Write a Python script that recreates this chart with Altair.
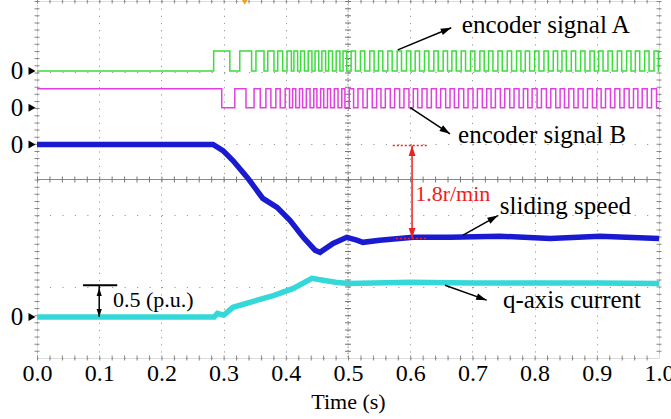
import math
import altair as alt
import pandas as pd

# ---------------- data ----------------
x_ticks = [0.0, 0.1, 0.2, 0.3, 0.4, 0.5, 0.6, 0.7, 0.8, 0.9, 1.0]
y_grid = [0, 1, 2, 3, 4, 5, 6, 7, 8, 9, 10]

# encoder signal A (levels in divisions)
A_LOW, A_HIGH = 8.04, 8.60
a_rise = [0.284, 0.326, 0.352, 0.371, 0.387, 0.402, 0.413, 0.424, 0.436, 0.447, 0.458, 0.469,
          0.481, 0.492, 0.505, 0.520, 0.535, 0.549, 0.564, 0.579, 0.594, 0.608, 0.623, 0.638,
          0.653, 0.667, 0.682, 0.697, 0.712, 0.726, 0.741, 0.756, 0.771, 0.785, 0.800, 0.815,
          0.830, 0.844, 0.859, 0.874, 0.889, 0.903, 0.918, 0.933, 0.948, 0.962, 0.977, 0.992]
a_fall = [0.310, 0.345, 0.365, 0.381, 0.395, 0.409, 0.419, 0.430, 0.442, 0.453, 0.464, 0.475,
          0.487, 0.498, 0.512, 0.527, 0.542, 0.556, 0.571, 0.586, 0.601, 0.615, 0.630, 0.645,
          0.660, 0.674, 0.689, 0.704, 0.719, 0.733, 0.748, 0.763, 0.778, 0.792, 0.807, 0.822,
          0.837, 0.851, 0.866, 0.881, 0.896, 0.910, 0.925, 0.940, 0.955, 0.969, 0.984, 0.999]

# encoder signal B
B_LOW, B_HIGH = 7.01, 7.54
b_fall = [0.297, 0.336, 0.359, 0.376, 0.391, 0.406, 0.416, 0.427, 0.439, 0.450, 0.461, 0.472,
          0.484, 0.495, 0.509, 0.524, 0.539, 0.553, 0.568, 0.583, 0.598, 0.612, 0.627, 0.642,
          0.657, 0.671, 0.686, 0.701, 0.716, 0.730, 0.745, 0.760, 0.775, 0.789, 0.804, 0.819,
          0.834, 0.848, 0.863, 0.878, 0.893, 0.907, 0.922, 0.937, 0.952, 0.966, 0.981, 0.996]
b_rise = [0.318, 0.349, 0.368, 0.384, 0.399, 0.411, 0.422, 0.433, 0.445, 0.456, 0.467, 0.478,
          0.490, 0.502, 0.516, 0.531, 0.546, 0.560, 0.575, 0.590, 0.605, 0.619, 0.634, 0.649,
          0.664, 0.678, 0.693, 0.708, 0.723, 0.737, 0.752, 0.767, 0.782, 0.796, 0.811, 0.826,
          0.841, 0.855, 0.870, 0.885, 0.900, 0.914, 0.929, 0.944, 0.959, 0.973, 0.988]

# sliding speed
speed_t = [0.0, 0.283, 0.299, 0.315, 0.338, 0.363, 0.386, 0.407, 0.428, 0.447, 0.455, 0.476,
           0.498, 0.514, 0.524, 0.551, 0.605, 0.664, 0.744, 0.825, 0.905, 1.0]
speed_v = [5.98, 5.98, 5.81, 5.53, 5.06, 4.47, 4.22, 3.85, 3.38, 3.02, 2.96, 3.21,
           3.38, 3.30, 3.24, 3.30, 3.38, 3.38, 3.41, 3.35, 3.41, 3.35]

# q-axis current
current_t = [0.0, 0.285, 0.290, 0.300, 0.305, 0.315, 0.354, 0.380, 0.412, 0.442, 0.460,
             0.480, 0.500, 0.600, 0.700, 0.800, 0.900, 1.0]
current_v = [1.15, 1.15, 1.25, 1.20, 1.27, 1.42, 1.62, 1.75, 1.95, 2.23, 2.18,
             2.12, 2.09, 2.12, 2.10, 2.10, 2.10, 2.09]

# channel zero markers
zero_levels = [8.04, 7.01, 5.98, 1.15]

# annotations (data coordinates)
label_text = ["encoder signal A", "encoder signal B", "sliding speed", "q-axis current"]
label_t = [0.683, 0.677, 0.744, 0.749]
label_v = [9.11, 6.03, 4.02, 1.40]
arrow_t = [0.580, 0.600, 0.685, 0.656]
arrow_v = [8.63, 7.01, 3.44, 2.04]
arrow_t2 = [0.666, 0.664, 0.741, 0.723]
arrow_v2 = [9.25, 6.28, 3.99, 1.62]

speed_ann_t = 0.603
speed_ann_top, speed_ann_bot = 5.95, 3.35
speed_ann_text = "1.8r/min"
cur_ann_t = 0.100
cur_ann_top, cur_ann_bot = 2.04, 1.15
cur_ann_text = "0.5 (p.u.)"

W, H = 622, 357
PX_T, PX_V = W / 1.0, H / 10.0
SERIF = "Liberation Serif"


def square(rises, falls, low, high, start_high):
    events = sorted([(t, high) for t in rises] + [(t, low) for t in falls])
    level = high if start_high else low
    pts = [(0.0, level)]
    for t, new in events:
        pts.append((t, level))
        pts.append((t, new))
        level = new
    pts.append((1.0, level))
    return pd.DataFrame({"t": [p[0] for p in pts], "v": [p[1] for p in pts],
                         "i": list(range(len(pts)))})


def angle(t1, v1, t2, v2):
    return math.degrees(math.atan2((t2 - t1) * PX_T, (v2 - v1) * PX_V)) % 360


df_a = square(a_rise, a_fall, A_LOW, A_HIGH, False)
df_b = square(b_rise, b_fall, B_LOW, B_HIGH, True)
df_speed = pd.DataFrame({"t": speed_t, "v": speed_v, "i": range(len(speed_t))})
df_cur = pd.DataFrame({"t": current_t, "v": current_v, "i": range(len(current_t))})
df_zero = pd.DataFrame({"v": zero_levels, "lab": ["0"] * len(zero_levels)})
df_lab = pd.DataFrame({"t": label_t, "v": label_v, "txt": label_text})
df_arr = pd.DataFrame({"t": arrow_t, "v": arrow_v, "t2": arrow_t2, "v2": arrow_v2})
df_arr["ang"] = [angle(a, b, c, d) for a, b, c, d in zip(arrow_t, arrow_v, arrow_t2, arrow_v2)]

xs = alt.Scale(domain=[0, 1], nice=False, zero=False)
ys = alt.Scale(domain=[0, 10], nice=False, zero=False)
x_axis = alt.Axis(values=x_ticks, format=".1f", title="Time (s)", labelFont=SERIF, labelFontSize=24,
                  labelColor="black", labelFlush=False, labelPadding=3, ticks=False, domain=False,
                  titleFont=SERIF, titleFontSize=22, titleFontWeight="normal", titleColor="black",
                  titlePadding=6, grid=True, gridColor="#9a9a9a", gridDash=[1.2, 5.94], gridWidth=1)
y_axis = alt.Axis(values=y_grid, labels=False, ticks=False, domain=False, title=None, grid=True,
                  gridColor="#9a9a9a", gridDash=[1.2, 11.24], gridWidth=1)
X = alt.X("t:Q", scale=xs, axis=x_axis)
Y = alt.Y("v:Q", scale=ys, axis=y_axis)

ARROW = "M0,0L-0.42,1.3L0.42,1.3Z"

layers = []
# center crosshair
layers.append(alt.Chart().mark_rule(color="#8a8a8a", strokeWidth=1).encode(
    y=alt.datum(5, scale=ys), x=alt.value(0), x2=alt.value(W)))
layers.append(alt.Chart().mark_rule(color="#777777", strokeWidth=6, strokeDash=[1, 11.44]).encode(
    y=alt.datum(5, scale=ys), x=alt.value(0), x2=alt.value(W)))
layers.append(alt.Chart().mark_rule(color="#777777", strokeWidth=1, strokeDash=[1.2, 2]).encode(
    x=alt.datum(0.5, scale=xs), y=alt.value(0), y2=alt.value(H)))
layers.append(alt.Chart().mark_rule(color="#777777", strokeWidth=6, strokeDash=[1, 6.14]).encode(
    x=alt.datum(0.5, scale=xs), y=alt.value(0), y2=alt.value(H)))
# inward ticks on the frame
layers.append(alt.Chart().mark_rule(color="#888888", strokeWidth=5, strokeDash=[1, 11.44]).encode(
    x=alt.value(0), x2=alt.value(W), y=alt.value(0)))
layers.append(alt.Chart().mark_rule(color="#888888", strokeWidth=5, strokeDash=[1, 11.44]).encode(
    x=alt.value(0), x2=alt.value(W), y=alt.value(H)))
layers.append(alt.Chart().mark_rule(color="#888888", strokeWidth=5, strokeDash=[1, 6.14]).encode(
    y=alt.value(0), y2=alt.value(H), x=alt.value(0)))
layers.append(alt.Chart().mark_rule(color="#888888", strokeWidth=5, strokeDash=[1, 6.14]).encode(
    y=alt.value(0), y2=alt.value(H), x=alt.value(W)))

# signals
layers.append(alt.Chart(df_a).mark_line(color="#3ddc3d", strokeWidth=1.5, interpolate="linear").encode(
    x=X, y=Y, order="i:Q"))
layers.append(alt.Chart(df_b).mark_line(color="#e040e0", strokeWidth=1.5).encode(
    x=X, y=Y, order="i:Q"))
layers.append(alt.Chart(df_speed).mark_line(color="#1a1ad0", strokeWidth=5.5).encode(
    x=X, y=Y, order="i:Q"))
layers.append(alt.Chart(df_cur).mark_line(color="#35d8d8", strokeWidth=5.5).encode(
    x=X, y=Y, order="i:Q"))

# zero markers on the left
layers.append(alt.Chart(df_zero).mark_text(font=SERIF, fontSize=25, color="black", align="center",
                                            baseline="middle").encode(
    x=alt.value(-20), y=Y, text="lab:N"))
layers.append(alt.Chart(df_zero).mark_point(shape="triangle-right", filled=True, color="black",
                                             size=65, opacity=1).encode(x=alt.value(-5), y=Y))

# trigger marker
layers.append(alt.Chart().mark_point(shape="triangle-down", filled=True, color="#f0a020",
                                     size=40, opacity=1).encode(
    x=alt.datum(0.334, scale=xs), y=alt.value(1)))

# label arrows
layers.append(alt.Chart(df_arr).mark_rule(color="black", strokeWidth=1.5).encode(
    x=X, y=Y, x2="t2:Q", y2="v2:Q"))
layers.append(alt.Chart(df_arr).mark_point(shape=ARROW, filled=True, color="black", size=260,
                                           opacity=1).encode(
    x=alt.X("t2:Q", scale=xs, axis=x_axis), y=alt.Y("v2:Q", scale=ys, axis=y_axis),
    angle=alt.Angle("ang:Q", scale=None)))
layers.append(alt.Chart(df_lab).mark_text(font=SERIF, fontSize=25, color="black", align="left",
                                           baseline="alphabetic").encode(x=X, y=Y, text="txt:N"))

# speed change annotation (red)
df_sp = pd.DataFrame({"t": [speed_ann_t], "v": [speed_ann_bot], "v2": [speed_ann_top]})
df_sp_heads = pd.DataFrame({"t": [speed_ann_t, speed_ann_t], "v": [speed_ann_top, speed_ann_bot],
                            "ang": [0, 180]})
df_sp_lines = pd.DataFrame({"t": [speed_ann_t - 0.031, speed_ann_t - 0.026],
                            "t2": [speed_ann_t + 0.026, speed_ann_t + 0.023],
                            "v": [speed_ann_top, speed_ann_bot]})
RED = "#ee2020"
layers.append(alt.Chart(df_sp_lines).mark_rule(color=RED, strokeWidth=1.5, strokeDash=[2, 2]).encode(
    x=X, x2="t2:Q", y=Y))
layers.append(alt.Chart(df_sp).mark_rule(color=RED, strokeWidth=1.5).encode(x=X, y=Y, y2="v2:Q"))
layers.append(alt.Chart(df_sp_heads).mark_point(shape=ARROW, filled=True, color=RED, size=260,
                                                opacity=1).encode(
    x=X, y=Y, angle=alt.Angle("ang:Q", scale=None)))
layers.append(alt.Chart(pd.DataFrame({"t": [0.608], "v": [4.39], "txt": [speed_ann_text]}))
              .mark_text(font=SERIF, fontSize=22, color=RED, align="left", baseline="alphabetic")
              .encode(x=X, y=Y, text="txt:N"))

# current scale annotation (black)
df_cu_bar = pd.DataFrame({"t": [cur_ann_t - 0.026], "t2": [cur_ann_t + 0.029], "v": [cur_ann_top]})
df_cu = pd.DataFrame({"t": [cur_ann_t], "v": [cur_ann_bot], "v2": [cur_ann_top]})
df_cu_heads = pd.DataFrame({"t": [cur_ann_t, cur_ann_t], "v": [cur_ann_top - 0.08, cur_ann_bot],
                            "ang": [0, 180]})
layers.append(alt.Chart(df_cu_bar).mark_rule(color="black", strokeWidth=2).encode(x=X, x2="t2:Q", y=Y))
layers.append(alt.Chart(df_cu).mark_rule(color="black", strokeWidth=1.5).encode(x=X, y=Y, y2="v2:Q"))
layers.append(alt.Chart(df_cu_heads).mark_point(shape=ARROW, filled=True, color="black", size=150,
                                                opacity=1).encode(
    x=X, y=Y, angle=alt.Angle("ang:Q", scale=None)))
layers.append(alt.Chart(pd.DataFrame({"t": [0.122], "v": [1.42], "txt": [cur_ann_text]}))
              .mark_text(font=SERIF, fontSize=22, color="black", align="left", baseline="alphabetic")
              .encode(x=X, y=Y, text="txt:N"))

chart = alt.layer(*layers).properties(
    width=W, height=H,
    autosize=alt.AutoSizeParams(type="none"),
    padding={"left": 37, "top": 1, "right": 12, "bottom": 61},
).configure_view(stroke="#808080", strokeWidth=1.2).configure(background="white")

chart.save("out.html", embed_options={"renderer": "svg", "actions": False})
